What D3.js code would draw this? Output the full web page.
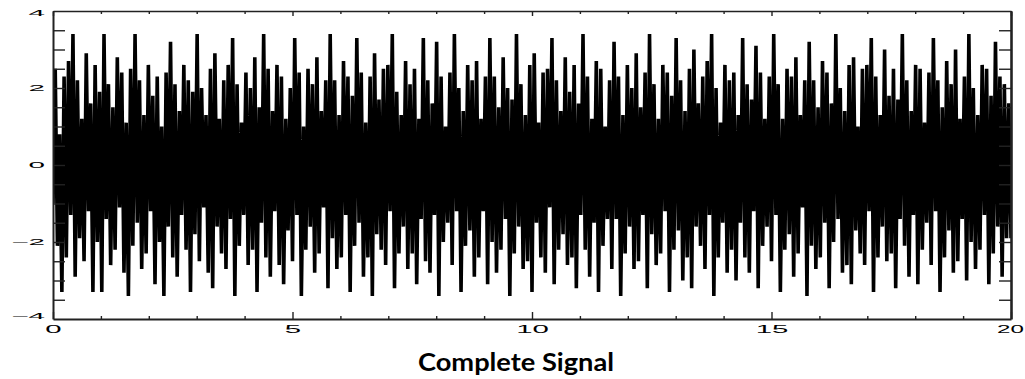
<!DOCTYPE html>
<html><head><meta charset="utf-8">
<script src="https://cdn.jsdelivr.net/npm/d3@7"></script>
<style>body{margin:0;background:#fff}svg{display:block}</style>
</head><body>
<svg id="chart" width="1025" height="379"></svg>
<script>
// ---- data ----
const xMajorTicks = [0, 5, 10, 15, 20];
const xMinorTicks = [1, 2, 3, 4, 6, 7, 8, 9, 11, 12, 13, 14, 16, 17, 18, 19];
const yLabelTicks = [-4, -2, 0, 2, 4];
const yAllTicks = [-3.5, -3, -2.5, -2, -1.5, -1, -0.5, 0, 0.5, 1, 1.5, 2, 2.5, 3, 3.5];
const xDomain = [0, 20];
const yDomain = [-4, 4];
const title = "Complete Signal";

// upper extreme of each stroke of the signal trace (216 strokes across 0..20)
const peaks = [
  2.5, 0.8, 2.3, 2.7, 3.4, 2.2, 1.2, 2.9, 1.6,
  2.6, 1.9, 3.4, 2.1, 1.5, 2.8, 2.4, 1.1, 2.5,
  3.4, 2.2, 1.3, 2.6, 1.8, 2.3, 1.0, 2.4, 3.2,
  2.1, 1.4, 2.6, 2.2, 1.9, 3.4, 2.0, 1.3, 2.5,
  2.9, 1.2, 2.2, 2.6, 3.3, 2.1, 1.1, 2.4, 2.0,
  2.8, 1.5, 3.4, 2.5, 1.4, 2.6, 2.3, 1.2, 2.0,
  3.3, 2.4, 1.0, 2.5, 2.1, 2.8, 1.4, 2.2, 3.4,
  2.2, 1.3, 2.7, 2.3, 1.8, 3.3, 2.4, 1.1, 2.3,
  2.9, 1.7, 2.5, 2.6, 3.4, 1.9, 1.3, 2.7, 2.1,
  2.5, 1.2, 3.3, 2.2, 1.6, 3.2, 2.3, 1.0, 2.4,
  3.4, 2.0, 1.4, 2.6, 2.2, 2.7, 1.2, 2.3, 3.3,
  2.3, 1.5, 2.8, 2.0, 1.7, 3.4, 2.1, 1.3, 2.6,
  2.9, 1.1, 2.4, 2.5, 3.3, 2.2, 1.4, 2.8, 1.9,
  2.6, 1.6, 3.4, 2.3, 1.2, 2.7, 2.5, 1.0, 2.2,
  3.2, 2.3, 1.3, 2.6, 2.0, 2.9, 1.5, 2.4, 3.4,
  2.1, 1.2, 2.6, 2.4, 1.8, 3.3, 2.2, 1.4, 2.5,
  3.0, 1.6, 2.3, 2.7, 3.4, 2.0, 1.1, 2.6, 2.2,
  2.4, 1.3, 3.3, 2.1, 1.7, 3.1, 2.4, 1.2, 2.3,
  3.4, 2.1, 1.2, 2.5, 2.3, 2.8, 1.3, 2.2, 3.2,
  2.2, 1.5, 2.7, 2.4, 1.6, 3.4, 2.0, 1.4, 2.6,
  2.8, 1.0, 2.5, 2.6, 3.3, 2.3, 1.3, 3.0, 1.8,
  2.5, 1.7, 3.4, 2.2, 1.4, 2.6, 2.5, 1.1, 2.4,
  3.3, 2.2, 1.5, 2.7, 2.1, 3.0, 1.2, 2.3, 3.4,
  2.0, 1.3, 2.6, 2.5, 1.8, 3.2, 2.3, 2.1, 1.6
];
// lower extreme of each stroke of the signal trace
const troughs = [
  -1.0, -2.1, -3.3, -2.4, -1.3, -2.9, -1.9, -2.5, -1.2,
  -3.3, -2.0, -3.3, -1.4, -2.6, -2.2, -1.1, -2.8, -3.4,
  -2.1, -1.5, -2.7, -2.3, -1.2, -3.1, -2.0, -3.4, -1.6,
  -2.4, -2.9, -1.3, -2.2, -3.3, -1.8, -2.5, -1.1, -2.8,
  -3.2, -1.6, -2.3, -2.7, -1.4, -3.4, -2.1, -1.3, -2.6,
  -2.2, -3.3, -1.5, -2.4, -2.9, -1.2, -2.6, -3.1, -1.7,
  -2.5, -1.3, -3.4, -2.2, -1.6, -2.8, -2.3, -1.1, -3.2,
  -1.9, -2.7, -2.4, -1.3, -3.3, -2.1, -1.5, -2.9, -2.4,
  -3.4, -1.8, -2.2, -2.6, -1.2, -3.2, -2.3, -1.6, -2.7,
  -2.3, -3.1, -1.4, -2.5, -2.8, -1.3, -3.4, -2.0, -1.5,
  -2.6, -1.2, -3.3, -2.1, -1.7, -2.9, -2.4, -1.2, -3.1,
  -2.0, -2.8, -2.2, -1.4, -3.4, -2.3, -1.6, -2.7, -2.5,
  -3.3, -1.5, -2.4, -2.8, -1.1, -3.1, -2.2, -1.8, -2.6,
  -2.4, -3.2, -1.3, -2.2, -2.9, -1.5, -3.3, -2.1, -1.4,
  -2.7, -1.4, -3.4, -2.3, -1.6, -2.7, -2.5, -1.3, -3.2,
  -1.8, -2.6, -2.3, -1.2, -3.3, -2.2, -1.7, -3.0, -2.4,
  -3.2, -1.6, -2.1, -2.7, -1.3, -3.4, -2.4, -1.5, -2.8,
  -2.2, -3.0, -1.5, -2.4, -2.8, -1.2, -3.2, -2.1, -1.6,
  -2.5, -1.3, -3.3, -2.2, -1.8, -2.9, -2.3, -1.1, -3.4,
  -2.1, -2.7, -2.4, -1.5, -3.2, -2.0, -1.4, -2.8, -2.6,
  -3.1, -1.7, -2.3, -2.6, -1.2, -3.3, -2.4, -1.6, -2.5,
  -2.3, -3.2, -1.4, -2.1, -2.9, -1.3, -3.1, -2.2, -1.5,
  -2.6, -1.2, -3.3, -2.4, -1.7, -2.8, -2.5, -1.4, -3.0,
  -2.0, -2.7, -2.2, -1.3, -3.1, -2.3, -1.6, -2.9, -1.9
];

// ---- layout ----
const svg = d3.select("#chart");
const L = 53, R = 1011, T = 11, B = 319;
const x = d3.scaleLinear().domain(xDomain).range([L, R]);
const y = d3.scaleLinear().domain(yDomain).range([B, T]);

svg.append("defs").append("clipPath").attr("id", "clip")
  .append("rect").attr("x", L).attr("y", T).attr("width", R - L).attr("height", B - T);

// signal trace: each stroke goes from its trough up to its peak
const n = peaks.length;
const dt = (xDomain[1] - xDomain[0]) / n;
const pts = [];
for (let k = 0; k < n; k++) {
  pts.push([xDomain[0] + k * dt, troughs[k]]);
  pts.push([xDomain[0] + (k + 0.5) * dt, peaks[k]]);
}
pts.push([xDomain[1], troughs[n - 1]]);
const line = d3.line().x(d => x(d[0])).y(d => y(d[1]));
svg.append("path").datum(pts)
  .attr("clip-path", "url(#clip)")
  .attr("d", line)
  .attr("fill", "none")
  .attr("stroke", "#000")
  .attr("stroke-width", 3.6)
  .attr("stroke-linejoin", "bevel");

// ---- axes ----
const axisColor = "#222";
function styleAxis(g, w) {
  g.selectAll(".domain").attr("stroke", axisColor).attr("stroke-width", w);
  g.selectAll(".tick line").attr("stroke", axisColor).attr("stroke-width", 1.4);
}
const fmt = v => (v < 0 ? "\u2212" + Math.abs(v) : String(v));

// bottom
const gB = svg.append("g").attr("transform", `translate(0,${B})`)
  .call(d3.axisBottom(x).tickValues(xMajorTicks).tickSize(-7).tickSizeOuter(0).tickFormat(fmt));
styleAxis(gB, 2);
gB.selectAll(".tick text")
  .attr("y", 14).attr("dy", null)
  .attr("transform", d => (d === xDomain[1] ? "translate(-1,0) scale(2.3,1)" : "scale(2.8,1)"))
  .attr("font-family", "Liberation Sans, Arial, sans-serif")
  .attr("font-size", 10.5).attr("fill", "#000");
const gBm = svg.append("g").attr("transform", `translate(0,${B})`)
  .call(d3.axisBottom(x).tickValues(xMinorTicks).tickSize(-3).tickSizeOuter(0).tickFormat(""));
styleAxis(gBm, 0); gBm.select(".domain").remove();

// top
const gT = svg.append("g").attr("transform", `translate(0,${T})`)
  .call(d3.axisTop(x).tickValues(xMajorTicks).tickSize(-5).tickSizeOuter(0).tickFormat(""));
styleAxis(gT, 1.6);
const gTm = svg.append("g").attr("transform", `translate(0,${T})`)
  .call(d3.axisTop(x).tickValues(xMinorTicks).tickSize(-3).tickSizeOuter(0).tickFormat(""));
styleAxis(gTm, 0); gTm.select(".domain").remove();

// left
const gL = svg.append("g").attr("transform", `translate(${L},0)`)
  .call(d3.axisLeft(y).tickValues(yAllTicks).tickSize(-12).tickSizeOuter(0).tickFormat(""));
styleAxis(gL, 2);
const gLl = svg.append("g").attr("transform", `translate(${L},0)`)
  .call(d3.axisLeft(y).tickValues(yLabelTicks).tickSize(0).tickSizeOuter(0).tickPadding(8).tickFormat(fmt));
gLl.select(".domain").remove();
gLl.selectAll(".tick text")
  .attr("x", -8 / 3.3)
  .attr("y", d => (d === yDomain[1] ? 2 : d === yDomain[0] ? -3 : 0))
  .attr("transform", "scale(3.3,1)")
  .attr("font-family", "Liberation Sans, Arial, sans-serif")
  .attr("font-size", 9).attr("fill", "#000");

// right
const gR = svg.append("g").attr("transform", `translate(${R},0)`)
  .call(d3.axisRight(y).tickValues(yAllTicks).tickSize(-12).tickSizeOuter(0).tickFormat(""));
styleAxis(gR, 2.6);

// title
svg.append("text")
  .attr("x", 516).attr("y", 371)
  .attr("text-anchor", "middle")
  .attr("font-family", "Lato, 'Open Sans', sans-serif")
  .attr("font-weight", "bold")
  .attr("font-size", 24)
  .attr("textLength", 196).attr("lengthAdjust", "spacingAndGlyphs")
  .attr("fill", "#000")
  .text(title);
</script>
</body></html>
